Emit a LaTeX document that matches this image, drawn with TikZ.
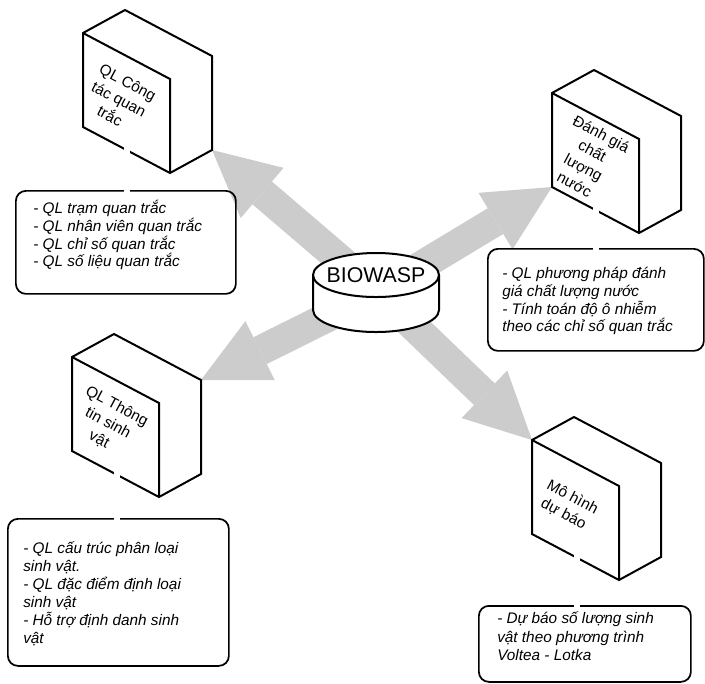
\documentclass[tikz,border=0pt]{standalone}
\usepackage{fontspec}
\setmainfont{Liberation Sans}
\usetikzlibrary{arrows.meta}
\usetikzlibrary{backgrounds}

\definecolor{arrowgray}{RGB}{204,204,204}

\tikzset{
  cube/.style={line width=1.5, fill=white, line join=miter},
  note/.style={draw, line width=1.3, rounded corners=7.5pt, anchor=north west, inner sep=0pt},
  note text/.style={anchor=north west, align=left, inner sep=0pt, font=\itshape\fontsize{11.5}{13.3}\selectfont},
  face text/.style={rotate=-28, align=center, inner sep=0pt, font=\fontsize{11.5}{14.25}\selectfont},
  big arrow/.style={line width=22.5pt, color=arrowgray, -{Triangle[width=49.5pt,length=49.5pt,line width=0pt]}},
  gap cut/.style={draw=white, line width=4, shorten >=-3pt},
}

\begin{document}
\begin{tikzpicture}[x=0.75pt,y=0.75pt,yscale=-1,xscale=1]
\useasboundingbox (0,0) rectangle (705,683);

%Shape: Can
\draw [line width=1.5, fill=white] (313,275) -- (313,310) arc [start angle=180, end angle=0, x radius=63, y radius=22] -- (439,275) ;
\draw [line width=1.5, fill=white] (376,275) ellipse [x radius=63, y radius=22] ;
% Text Node
\node (db) at (376,275) [font=\fontsize{16}{16}\selectfont] {BIOWASP};
\coordinate (hub) at (378,292);

%Shape: Cube
\draw [cube] (83,33) coordinate (box1) -- ++(42,-23) -- ++(87,46) -- ++(0,94) coordinate (box1F) -- ++(-42,23) -- ++(-87,-46) -- cycle ;
\draw [cube, fill=none] (box1) -- ++(87,46) -- ++(0,94) ;
% Text Node
\node (lbl1) [face text] at (119,99) {QL Công\\tác quan\\trắc};

%Shape: Cube
\draw [cube] (552,93) coordinate (box2) -- ++(42,-23) -- ++(87,46) -- ++(0,94) -- ++(-42,23) -- ++(-87,-46) coordinate (box2G) -- cycle ;
\draw [cube, fill=none] (box2) -- ++(87,46) -- ++(0,94) ;
% Text Node
\node (lbl2) [face text] at (588,159) {Đánh giá\\chất\\lượng\\nước};

%Shape: Cube
\draw [cube] (72,357) coordinate (box3) -- ++(42,-23) -- ++(87,46) coordinate (box3C) -- ++(0,94) -- ++(-42,23) -- ++(-87,-46) -- cycle ;
\draw [cube, fill=none] (box3) -- ++(87,46) -- ++(0,94) ;
% Text Node
\node (lbl3) [face text] at (108,423) {QL Thông\\tin sinh\\vật};

%Shape: Cube
\draw [cube] (532,440) coordinate (box4) -- ++(42,-23) -- ++(87,46) -- ++(0,94) -- ++(-42,23) -- ++(-87,-46) -- cycle ;
\draw [cube, fill=none] (box4) -- ++(87,46) -- ++(0,94) ;
% Text Node
\node (lbl4) [face text] at (568,506) {Mô hình\\dự báo};

%Rounded Rect
\node (note1) [note, minimum width=165pt, minimum height=77.25pt] at (15,190) {};
\node (note2) [note, minimum width=162pt, minimum height=76.5pt] at (487,248) {};
\node (note3) [note, minimum width=165.75pt, minimum height=110.25pt] at (7,518) {};
\node (note4) [note, minimum width=159pt, minimum height=57pt] at (478,605) {};

% Text Node
\node (txt1) [note text] at (33,200) {- QL trạm quan trắc\\- QL nhân viên quan trắc\\- QL chỉ số quan trắc\\- QL số liệu quan trắc};
% Text Node
\node (txt2) [note text] at (502,267) {- QL phương pháp đánh\\giá chất lượng nước\\- Tính toán độ ô nhiễm\\theo các chỉ số quan trắc};
% Text Node
\node (txt3) [note text, font=\itshape\fontsize{11.5}{13.6}\selectfont] at (23,541) {- QL cấu trúc phân loại\\sinh vật.\\- QL đặc điểm định loại\\sinh vật\\- Hỗ trợ định danh sinh\\vật};
% Text Node
\node (txt4) [note text, font=\itshape\fontsize{11.5}{14.2}\selectfont] at (497,611) {- Dự báo số lượng sinh\\vật theo phương trình\\Voltea - Lotka};

%Straight Lines
\coordinate (gap1) at (127,146);
\coordinate (gap2) at (596,206);
\coordinate (gap3) at (117,469);
\coordinate (gap4) at (577,553);
\draw [gap cut] (gap1) -- (gap1 |- note1.north) ;
\draw [gap cut] (gap2) -- (gap2 |- note2.north) ;
\draw [gap cut] (gap3) -- (gap3 |- note3.north) ;
\draw [gap cut] (gap4) -- (gap4 |- note4.north) ;

%Block Arrows
\begin{scope}[on background layer]
\draw [big arrow] (hub) -- (box1F) ;
\draw [big arrow] (hub) -- (box2G) ;
\draw [big arrow] (hub) -- (box3C) ;
\draw [big arrow] (hub) -- (box4) ;
\end{scope}

\end{tikzpicture}
\end{document}
